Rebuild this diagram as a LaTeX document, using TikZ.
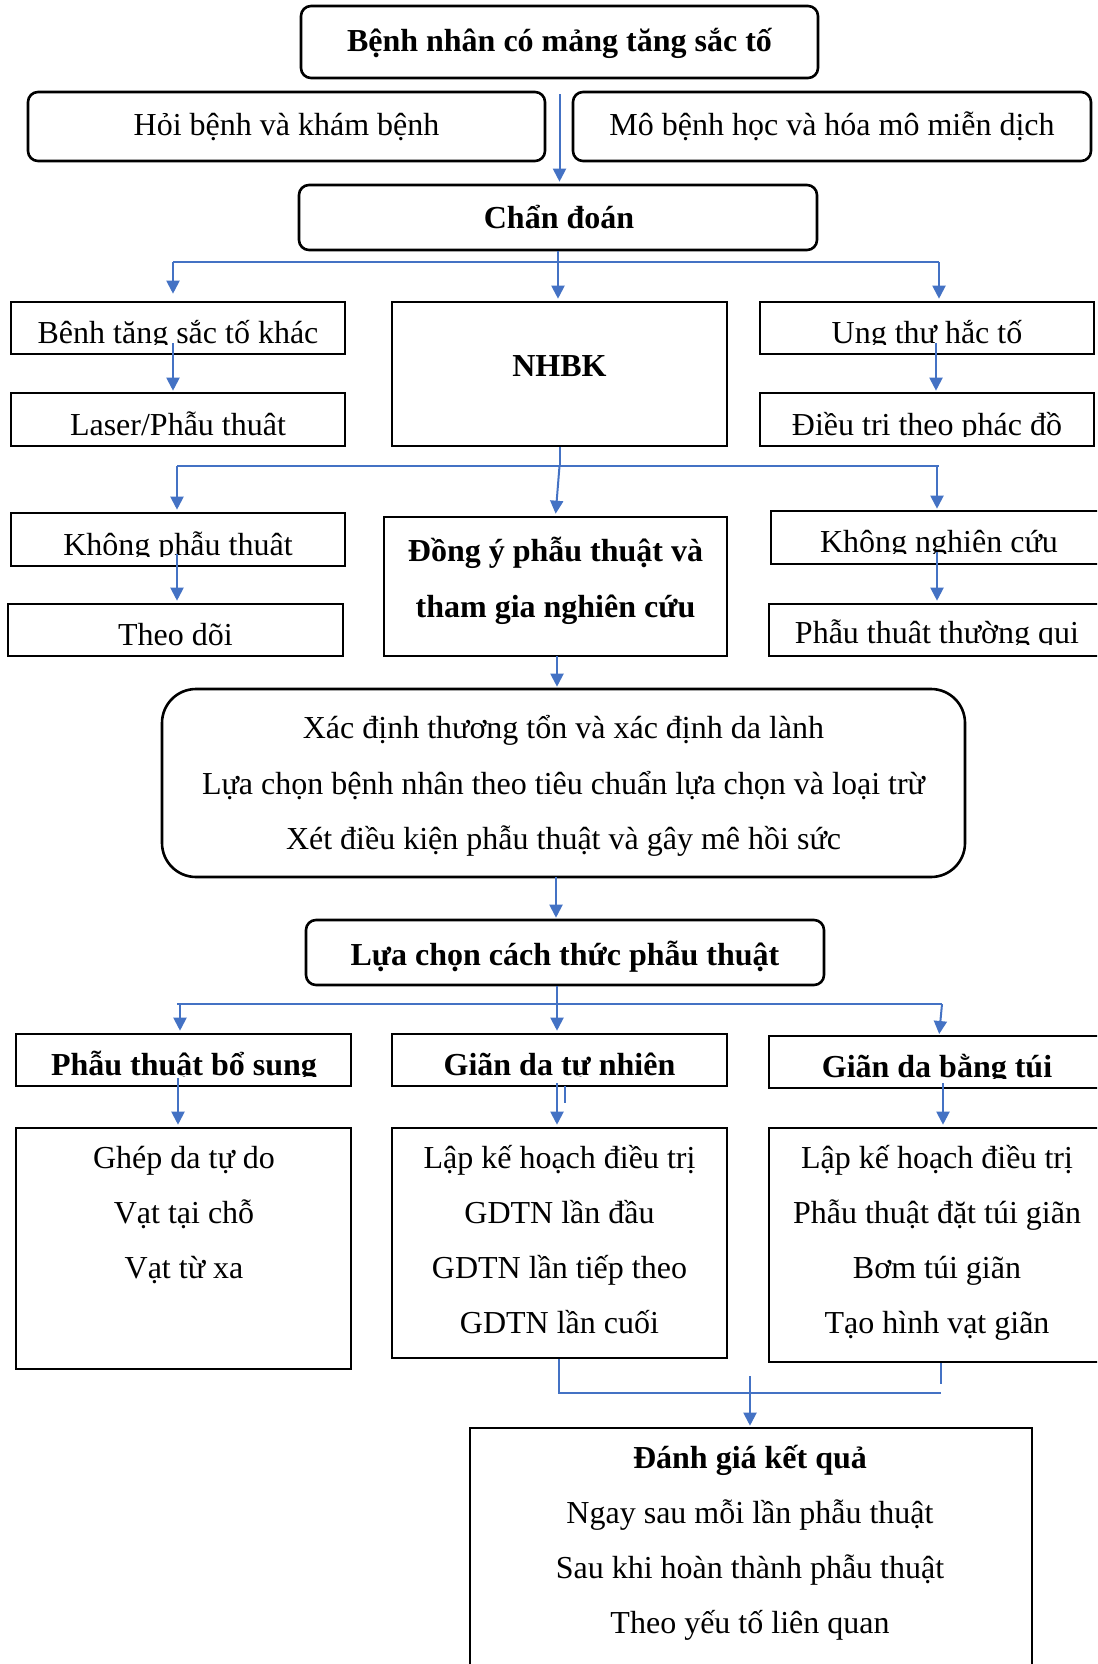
\documentclass[tikz,border=0pt]{standalone}
\usepackage{fontspec}
\setmainfont{Liberation Serif}
\usetikzlibrary{arrows.meta}
\definecolor{lineblue}{RGB}{68,114,196}
\newcommand\fs{\fontsize{16pt}{19pt}\selectfont}
\tikzset{
  basebox/.style={draw=black, line width=1.3pt, inner sep=0pt},
  rbox/.style={basebox, rounded corners=5pt},
  bigrbox/.style={basebox, rounded corners=17pt},
  sbox/.style={basebox, rectangle},
  txt/.style={anchor=base, inner sep=0pt, font=\fs},
  btxt/.style={anchor=base, inner sep=0pt, font=\fs\bfseries},
  conn/.style={draw=lineblue, line width=1pt},
  arr/.style={conn, -{Triangle[length=6.5pt,width=6.5pt]}},
  thinconn/.style={draw=lineblue, line width=0.6pt},
}
\begin{document}
\begin{tikzpicture}[x=0.5pt,y=-0.5pt]
\useasboundingbox (0,0) rectangle (1097,1664);
\fill[white] (0,0) rectangle (1097,1664);
\clip (0,0) rectangle (1097,1664);

% ---------- top part
\node[rbox, minimum width=258.5pt, minimum height=36pt] (top) at (559.5,42) {};
\node[btxt] (ttop) at (559.5,52) {Bệnh nhân có mảng tăng sắc tố};
\node[rbox, minimum width=258.5pt, minimum height=34.5pt] (hoi) at (286.5,126.5) {};
\node[txt] (thoi) at (286.5,136) {Hỏi bệnh và khám bệnh};
\node[rbox, minimum width=259pt, minimum height=34.5pt] (mo) at (832,126.5) {};
\node[txt] (tmo) at (832,136) {Mô bệnh học và hóa mô miễn dịch};
\node[rbox, minimum width=259pt, minimum height=32.5pt] (chan) at (558,217.5) {};
\node[btxt] (tchan) at (559,229) {Chẩn đoán};

% ---------- row: diagnosis outcomes
\node[sbox, minimum width=167pt, minimum height=26pt] (benh) at (178,328) {};
\begin{scope}\clip (10,302) rectangle (345,344);
\node[txt] (tbenh) at (178,343) {Bệnh tăng sắc tố khác};
\end{scope}
\node[sbox, minimum width=167.5pt, minimum height=72pt] (nhbk) at (559.5,374) {};
\node[btxt] (tnhbk) at (559.5,376) {NHBK};
\node[sbox, minimum width=167pt, minimum height=26pt] (ung) at (927,328) {};
\begin{scope}\clip (760,302) rectangle (1094,344);
\node[txt] (tung) at (927,343) {Ung thư hắc tố};
\end{scope}
\node[sbox, minimum width=167pt, minimum height=26.5pt] (laser) at (178,419.5) {};
\begin{scope}\clip (10,393) rectangle (345,436);
\node[txt] (tlaser) at (178,435) {Laser/Phẫu thuật};
\end{scope}
\node[sbox, minimum width=167pt, minimum height=26.5pt] (dieutri) at (927,419.5) {};
\begin{scope}\clip (760,393) rectangle (1094,436);
\node[txt] (tdieutri) at (927,435) {Điều trị theo phác đồ};
\end{scope}

% ---------- row: NHBK outcomes
\node[sbox, minimum width=167pt, minimum height=26.5pt] (khongpt) at (178,539.5) {};
\begin{scope}\clip (10,513) rectangle (345,556);
\node[txt] (tkhongpt) at (178,555) {Không phẫu thuật};
\end{scope}
\node[sbox, minimum width=167.5pt, minimum height=26pt] (theodoi) at (175.5,630) {};
\node[txt] (ttheodoi) at (175.5,645) {Theo dõi};
\node[sbox, minimum width=171.5pt, minimum height=69.5pt] (dongy) at (555.5,586.5) {};
\node[btxt] (tdongy1) at (555.5,561) {Đồng ý phẫu thuật và};
\node[btxt] (tdongy2) at (555.5,617) {tham gia nghiên cứu};
\node[sbox, minimum width=167pt, minimum height=26.5pt] (khongnc) at (938,537.5) {};
\begin{scope}\clip (771,511) rectangle (1105,553);
\node[txt] (tkhongnc) at (939,552) {Không nghiên cứu};
\end{scope}
\node[sbox, minimum width=168pt, minimum height=26pt] (ptthuong) at (937,630) {};
\begin{scope}\clip (769,604) rectangle (1105,644);
\node[txt] (tptthuong) at (937,643) {Phẫu thuật thường qui};
\end{scope}

% ---------- selection box
\node[bigrbox, minimum width=401.5pt, minimum height=94pt] (big) at (563.5,783) {};
\node[txt] (tbig1) at (563.5,738) {Xác định thương tổn và xác định da lành};
\node[txt] (tbig2) at (563.5,794) {Lựa chọn bệnh nhân theo tiêu chuẩn lựa chọn và loại trừ};
\node[txt] (tbig3) at (563.5,849) {Xét điều kiện phẫu thuật và gây mê hồi sức};
\node[rbox, minimum width=259pt, minimum height=32.5pt] (luachon) at (565,952.5) {};
\node[btxt] (tluachon) at (565,965) {Lựa chọn cách thức phẫu thuật};

% ---------- methods
\node[sbox, minimum width=167.5pt, minimum height=26pt] (ptbs) at (183.5,1060) {};
\begin{scope}\clip (16,1034) rectangle (351,1076);
\node[btxt] (tptbs) at (184,1075) {Phẫu thuật bổ sung};
\end{scope}
\node[sbox, minimum width=167.5pt, minimum height=26pt] (gdtn) at (559.5,1060) {};
\begin{scope}\clip (392,1034) rectangle (727,1076);
\node[btxt] (tgdtn) at (559.5,1075) {Giãn da tự nhiên};
\end{scope}
\node[sbox, minimum width=168pt, minimum height=26pt] (tui) at (937,1062) {};
\begin{scope}\clip (769,1036) rectangle (1105,1078);
\node[btxt] (ttui) at (937,1077) {Giãn da bằng túi};
\end{scope}

\node[sbox, minimum width=167.5pt, minimum height=120.5pt] (ghep) at (183.5,1248.5) {};
\node[txt] (tghep1) at (184,1168) {Ghép da tự do};
\node[txt] (tghep2) at (184,1223) {Vạt tại chỗ};
\node[txt] (tghep3) at (184,1278) {Vạt từ xa};
\node[sbox, minimum width=167.5pt, minimum height=115pt] (gdtnlist) at (559.5,1243) {};
\node[txt] (tg1) at (559.5,1168) {Lập kế hoạch điều trị};
\node[txt] (tg2) at (559.5,1223) {GDTN lần đầu};
\node[txt] (tg3) at (559.5,1278) {GDTN lần tiếp theo};
\node[txt] (tg4) at (559.5,1333) {GDTN lần cuối};
\node[sbox, minimum width=168pt, minimum height=117pt] (tuilist) at (937,1245) {};
\node[txt] (tt1) at (937,1168) {Lập kế hoạch điều trị};
\node[txt] (tt2) at (937,1223) {Phẫu thuật đặt túi giãn};
\node[txt] (tt3) at (937,1278) {Bơm túi giãn};
\node[txt] (tt4) at (937,1333) {Tạo hình vạt giãn};

% ---------- evaluation
\node[sbox, minimum width=281pt, minimum height=126pt] (danhgia) at (751,1554) {};
\node[btxt] (td0) at (750,1468) {Đánh giá kết quả};
\node[txt] (td1) at (750,1523) {Ngay sau mỗi lần phẫu thuật};
\node[txt] (td2) at (750,1578) {Sau khi hoàn thành phẫu thuật};
\node[txt] (td3) at (750,1633) {Theo yếu tố liên quan};

% ---------- connectors
\draw[arr, shorten <=7.5pt, shorten >=1pt] (top.south) -- (top.south |- chan.north);

\coordinate (j1L) at (173,262);
\coordinate (j1R) at (939,262);
\draw[conn] (j1L) -- (j1R);
\draw[arr, shorten >=1pt] (chan.south) -- (chan.south |- nhbk.north);
\draw[arr, shorten >=3.5pt] (j1L) -- (j1L |- benh.north);
\draw[arr, shorten >=1pt] (j1R) -- (j1R |- ung.north);
\coordinate (s1L) at (173,343);
\coordinate (s1R) at (936,343);
\draw[arr, shorten >=0.5pt] (s1L) -- (s1L |- laser.north);
\draw[arr, shorten >=0.5pt] (s1R) -- (s1R |- dieutri.north);

\coordinate (j2L) at (177,466);
\coordinate (j2M) at (559.5,466);
\coordinate (j2R) at (939,466);
\coordinate (j2r) at (937,466);
\draw[conn] (j2L) -- (j2R);
\draw[conn] (nhbk.south) -- (j2M);
\draw[arr, shorten >=1pt] (j2M) -- (dongy.north);
\draw[arr, shorten >=1pt] (j2L) -- (j2L |- khongpt.north);
\draw[arr, shorten >=0.5pt] (j2r) -- (j2r |- khongnc.north);
\coordinate (s2L) at (177,554);
\coordinate (s2R) at (937,552);
\draw[arr, shorten >=1pt] (s2L) -- (s2L |- theodoi.north);
\draw[arr, shorten >=1pt] (s2R) -- (s2R |- ptthuong.north);

\coordinate (d1) at (557,656);
\draw[arr, shorten >=0.5pt] (d1) -- (d1 |- big.north);
\coordinate (d2) at (556,877);
\draw[arr, shorten >=0.5pt] (d2) -- (d2 |- luachon.north);

\coordinate (j3L) at (177,1004);
\coordinate (j3l) at (180,1004);
\coordinate (j3M) at (557,1004);
\coordinate (j3R) at (942,1004);
\coordinate (j3r) at (939,1036);
\draw[conn] (j3L) -- (j3R);
\draw[conn] (j3M |- luachon.south) -- (j3M);
\draw[arr, shorten >=1pt] (j3M) -- (j3M |- gdtn.north);
\draw[arr, shorten >=1pt] (j3l) -- (j3l |- ptbs.north);
\draw[arr, shorten >=1pt] (j3R) -- (j3r);
\coordinate (s3L) at (178,1078);
\coordinate (s3M) at (557,1083);
\coordinate (s3R) at (943,1083);
\draw[arr, shorten >=1pt] (s3L) -- (s3L |- ghep.north);
\draw[arr, shorten >=1pt] (s3M) -- (s3M |- gdtnlist.north);
\draw[arr, shorten >=1pt] (s3R) -- (s3R |- tuilist.north);
\coordinate (stray1) at (565,1086);
\coordinate (stray2) at (565,1103);
\draw[thinconn] (stray1) -- (stray2);

\coordinate (j4L) at (559,1393);
\coordinate (j4R) at (941,1393);
\coordinate (j4r) at (941,1384);
\draw[thinconn] (j4L |- gdtnlist.south) -- (j4L) -- (j4R);
\draw[thinconn] (j4R |- tuilist.south) -- (j4r);
\coordinate (j4M) at (750,1376);
\draw[arr, shorten >=0.5pt] (j4M) -- (j4M |- danhgia.north);
\end{tikzpicture}
\end{document}
